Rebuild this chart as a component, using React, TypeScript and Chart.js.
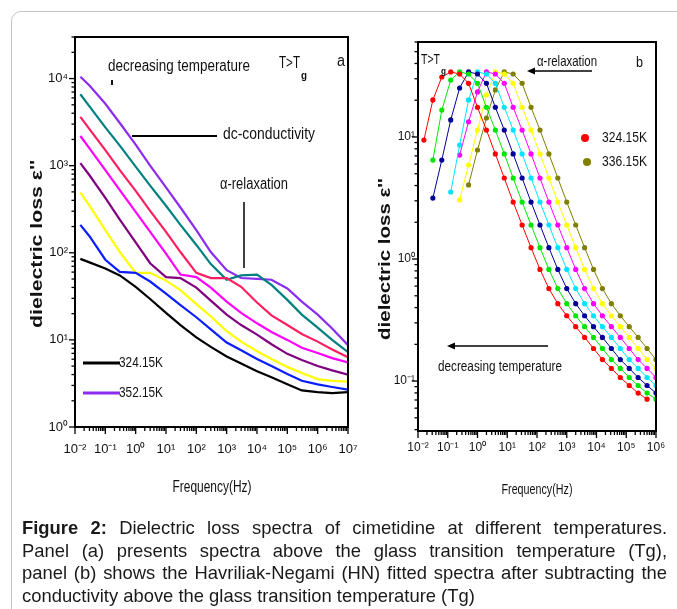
import React, { useEffect, useRef } from 'react';
import { Chart, registerables } from 'chart.js';
Chart.register(...registerables);

// ---------- Panel (a): raw dielectric loss spectra ----------
const freqA = [0.015, 0.03, 0.1, 0.3, 1, 3, 10, 30, 100, 300, 1000, 3000, 10000, 30000, 100000, 300000, 1000000, 3000000, 10000000];
const lossA_324_15K = [85.1, 77.6, 66.1, 55.0, 40.7, 29.5, 20.4, 14.8, 10.7, 8.32, 6.46, 5.37, 4.37, 3.72, 3.09, 2.63, 2.51, 2.45, 2.51];
const lossA_T2 = [209, 155, 83.2, 60.3, 58.9, 46.8, 33.9, 25.1, 18.2, 13.2, 9.33, 7.59, 6.03, 5.01, 4.07, 3.39, 3.09, 2.88, 2.69];
const lossA_T3 = [490, 347, 182, 102, 58.9, 58.9, 47.9, 37.2, 25.7, 18.6, 12.6, 9.55, 7.41, 6.03, 4.90, 4.17, 3.55, 3.39, 3.31];
const lossA_T4 = [1070, 776, 427, 240, 132, 75.9, 52.5, 51.3, 39.8, 28.2, 19.5, 14.8, 11.5, 8.91, 6.92, 5.89, 5.01, 4.47, 3.98];
const lossA_T5 = [2190, 1580, 891, 525, 295, 174, 97.7, 56.2, 52.5, 39.8, 27.5, 20.4, 15.5, 12.3, 10.0, 8.13, 7.08, 6.17, 5.50];
const lossA_T6 = [3630, 2630, 1510, 891, 513, 302, 174, 102, 58.9, 51.3, 51.3, 40.7, 26.9, 19.1, 14.8, 11.7, 9.55, 7.76, 6.31];
const lossA_T7 = [6610, 4790, 2750, 1700, 977, 589, 347, 209, 123, 74.1, 49.0, 55.0, 56.2, 42.7, 28.8, 19.5, 13.8, 10.0, 7.24];
const lossA_352_15K = [10470, 8320, 5130, 3090, 1740, 1000, 562, 331, 182, 102, 63.1, 51.3, 50.1, 49.0, 38.9, 27.5, 19.5, 13.5, 8.71];
const tickExpA_X = [-2, -1, 0, 1, 2, 3, 4, 5, 6, 7];
const tickExpA_Y = [0, 1, 2, 3, 4];

// ---------- Panel (b): HN fitted spectra ----------
const freqB = [0.0158, 0.0316, 0.0631, 0.126, 0.251, 0.501, 1, 2, 3.98, 7.94, 15.8, 31.6, 63.1, 126, 251, 501, 1000, 2000, 3980, 7940, 15800, 31600, 63100, 126000, 251000, 501000, 1000000];
const lossB_324_15K = [9.44, 20.1, 31.0, 34.1, 32.8, 27.5, 17.5, 11.4, 7.26, 4.61, 2.93, 1.90, 1.24, 0.822, 0.573, 0.431, 0.343, 0.279, 0.228, 0.185, 0.150, 0.127, 0.107, 0.092, 0.0798, 0.0711, null];
const lossB_T2 = [null, 6.47, 16.6, 29.3, 34.1, 32.8, 27.5, 17.5, 11.4, 7.26, 4.61, 2.93, 1.90, 1.24, 0.822, 0.573, 0.431, 0.343, 0.279, 0.228, 0.185, 0.150, 0.127, 0.107, 0.092, 0.0798, 0.0711];
const lossB_T3 = [null, 3.16, 6.47, 13.8, 25.2, 34.1, 32.8, 27.5, 17.5, 11.4, 7.26, 4.61, 2.93, 1.90, 1.24, 0.822, 0.573, 0.431, 0.343, 0.279, 0.228, 0.185, 0.150, 0.127, 0.107, 0.092, 0.0798];
const lossB_T4 = [null, null, null, 3.54, 8.59, 20.1, 34.1, 32.8, 27.5, 17.5, 11.4, 7.26, 4.61, 2.93, 1.90, 1.24, 0.822, 0.573, 0.431, 0.343, 0.279, 0.228, 0.185, 0.150, 0.127, 0.107, 0.092];
const lossB_T5 = [null, null, null, null, 7.11, 13.3, 23.4, 34.1, 32.8, 27.5, 17.5, 11.4, 7.26, 4.61, 2.93, 1.90, 1.24, 0.822, 0.573, 0.431, 0.343, 0.279, 0.228, 0.185, 0.150, 0.127, 0.107];
const lossB_T6 = [null, null, null, null, 3.05, 5.89, 11.4, 22.1, 34.1, 32.8, 27.5, 17.5, 11.4, 7.26, 4.61, 2.93, 1.90, 1.24, 0.822, 0.573, 0.431, 0.343, 0.279, 0.228, 0.185, 0.150, 0.127];
const lossB_336_15K = [null, null, null, null, null, 4.05, 7.82, 14.3, 24.3, 34.1, 32.8, 27.5, 17.5, 11.4, 7.26, 4.61, 2.93, 1.90, 1.24, 0.822, 0.573, 0.431, 0.343, 0.279, 0.228, 0.185, 0.150];
const tickExpB_X = [-2, -1, 0, 1, 2, 3, 4, 5, 6];
const tickExpB_Y = [-1, 0, 1];

const captionLines = [
  'Dielectric loss spectra of cimetidine at different temperatures.',
  'Panel (a) presents spectra above the glass transition temperature (Tg),',
  'panel (b) shows the Havriliak-Negami (HN) fitted spectra after subtracting the',
  'conductivity above the glass transition temperature (Tg)',
];

const FONT = '"Liberation Sans", Arial, sans-serif';
const VIOLET = '#8b2cf0';
const OLIVE = '#808000';

const SUP: Record<string, string> = { '-': '\u207B', '0': '\u2070', '1': '\u00B9', '2': '\u00B2', '3': '\u00B3', '4': '\u2074', '5': '\u2075', '6': '\u2076', '7': '\u2077', '8': '\u2078', '9': '\u2079' };

function isPow10(v: number) {
  const e = Math.log10(v);
  return Math.abs(e - Math.round(e)) < 1e-6;
}
function powLabel(v: number) {
  if (!isPow10(v)) return '';
  const r = Math.round(Math.log10(v));
  return '10' + String(r).split('').map((c) => SUP[c]).join('');
}
function buildTicks(exps: number[], min: number, max: number) {
  const out: { value: number }[] = [];
  for (let e = exps[0] - 1; e <= exps[exps.length - 1]; e++) {
    for (let m = 1; m < 10; m++) {
      const v = m * Math.pow(10, e);
      if (v >= min * 0.9999 && v <= max * 1.0001) out.push({ value: v });
    }
  }
  return out;
}

function fitText(ctx: any, text: string, x: number, y: number, w: number, font: string, align: 'left' | 'center' = 'left', rotate = false) {
  ctx.save();
  ctx.font = font;
  const m = ctx.measureText(text).width;
  ctx.translate(x, y);
  if (rotate) ctx.rotate(-Math.PI / 2);
  ctx.scale(w / m, 1);
  ctx.textAlign = 'left';
  ctx.textBaseline = 'middle';
  ctx.fillText(text, align === 'center' ? -m / 2 : 0, 0);
  ctx.restore();
}
function line(ctx: any, x1: number, y1: number, x2: number, y2: number, w: number, color = '#000') {
  ctx.save();
  ctx.strokeStyle = color;
  ctx.lineWidth = w;
  ctx.beginPath();
  ctx.moveTo(x1, y1);
  ctx.lineTo(x2, y2);
  ctx.stroke();
  ctx.restore();
}
function arrowLeft(ctx: any, x1: number, x2: number, y: number, w: number) {
  line(ctx, x1 + 4, y, x2, y, w);
  ctx.save();
  ctx.fillStyle = '#000';
  ctx.beginPath();
  ctx.moveTo(x1, y);
  ctx.lineTo(x1 + 8, y - 3.5);
  ctx.lineTo(x1 + 8, y + 3.5);
  ctx.closePath();
  ctx.fill();
  ctx.restore();
}

const framePlugin = {
  id: 'frameTicks',
  afterDraw(chart: any) {
    const { ctx, chartArea } = chart;
    const { left, right, top, bottom } = chartArea;
    const xs = chart.scales.x;
    const ys = chart.scales.y;
    ctx.save();
    ctx.strokeStyle = '#000';
    ctx.lineWidth = 1.3;
    xs.ticks.forEach((t: any) => {
      const px = xs.getPixelForValue(t.value);
      ctx.beginPath();
      ctx.moveTo(px, bottom);
      ctx.lineTo(px, bottom + (isPow10(t.value) ? 7 : 4));
      ctx.stroke();
    });
    ys.ticks.forEach((t: any) => {
      const py = ys.getPixelForValue(t.value);
      ctx.beginPath();
      ctx.moveTo(left, py);
      ctx.lineTo(left - (isPow10(t.value) ? 6 : 3.5), py);
      ctx.stroke();
    });
    ctx.lineWidth = 2;
    ctx.strokeRect(left, top, right - left, bottom - top);
    ctx.restore();
  },
};

const annotA = {
  id: 'annotA',
  afterDraw(chart: any) {
    const ctx = chart.ctx;
    ctx.save();
    ctx.fillStyle = '#111';
    fitText(ctx, 'decreasing temperature', 108, 67, 142, `16px ${FONT}`);
    ctx.fillRect(111, 80, 2, 5);
    fitText(ctx, 'T>T', 279, 64, 21, `16px ${FONT}`);
    fitText(ctx, 'g', 301, 76, 6, `bold 10px ${FONT}`);
    fitText(ctx, 'a', 337, 62, 8, `16px ${FONT}`);
    line(ctx, 132, 136, 217, 136, 2);
    fitText(ctx, 'dc-conductivity', 223, 135, 92, `16px ${FONT}`);
    fitText(ctx, '\u03B1-relaxation', 220, 185, 68, `16px ${FONT}`);
    line(ctx, 244, 202, 244, 268, 1.5);
    line(ctx, 83, 363, 120, 363, 3, '#000');
    fitText(ctx, '324.15K', 119, 363, 44, `15px ${FONT}`);
    line(ctx, 83, 393, 120, 393, 3, VIOLET);
    fitText(ctx, '352.15K', 119, 393, 44, `15px ${FONT}`);
    fitText(ctx, "dielectric loss \u03B5''", 37, 244, 168, `bold 17px ${FONT}`, 'center', true);
    fitText(ctx, 'Frequency(Hz)', 212, 488, 79, `16px ${FONT}`, 'center');
    ctx.restore();
  },
};

const annotB = {
  id: 'annotB',
  afterDraw(chart: any) {
    const ctx = chart.ctx;
    ctx.save();
    ctx.fillStyle = '#111';
    fitText(ctx, 'T>T', 421, 60, 19, `15px ${FONT}`);
    fitText(ctx, 'g', 441, 72, 5, `bold 9px ${FONT}`);
    fitText(ctx, '\u03B1-relaxation', 537, 62, 60, `15px ${FONT}`);
    arrowLeft(ctx, 527, 592, 71, 1.5);
    fitText(ctx, 'b', 636, 63, 7, `15px ${FONT}`);
    ctx.fillStyle = '#ff0000';
    ctx.beginPath();
    ctx.arc(585, 138, 4, 0, Math.PI * 2);
    ctx.fill();
    ctx.fillStyle = OLIVE;
    ctx.beginPath();
    ctx.arc(587, 162, 4, 0, Math.PI * 2);
    ctx.fill();
    ctx.fillStyle = '#111';
    fitText(ctx, '324.15K', 602, 138, 45, `15px ${FONT}`);
    fitText(ctx, '336.15K', 602, 162, 45, `15px ${FONT}`);
    arrowLeft(ctx, 447, 548, 346, 1.5);
    fitText(ctx, 'decreasing temperature', 438, 367, 124, `15px ${FONT}`);
    fitText(ctx, "dielectric loss \u03B5''", 386, 259, 162, `bold 16px ${FONT}`, 'center', true);
    fitText(ctx, 'Frequency(Hz)', 537, 490, 71, `14px ${FONT}`, 'center');
    ctx.restore();
  },
};

function pts(freq: number[], vals: (number | null)[]) {
  const out: { x: number; y: number }[] = [];
  vals.forEach((v, i) => {
    if (v !== null) out.push({ x: freq[i], y: v });
  });
  return out;
}

function makeConfig(spec: any): any {
  return {
    type: 'line',
    data: { datasets: spec.datasets },
    options: {
      animation: false,
      responsive: false,
      maintainAspectRatio: false,
      events: [],
      layout: { padding: spec.padding },
      plugins: { legend: { display: false }, tooltip: { enabled: false }, title: { display: false } },
      elements: { line: { tension: 0 } },
      scales: {
        x: {
          type: 'logarithmic',
          min: spec.xmin,
          max: spec.xmax,
          afterBuildTicks: (s: any) => { s.ticks = buildTicks(spec.xExps, spec.xmin, spec.xmax); },
          afterFit: (s: any) => { s.height = spec.xh; },
          grid: { display: false, drawTicks: false },
          border: { display: false },
          ticks: { callback: (v: number) => powLabel(v), autoSkip: false, maxRotation: 0, minRotation: 0, padding: spec.xpad, color: '#111', font: { family: FONT, size: spec.tickSize } },
        },
        y: {
          type: 'logarithmic',
          min: spec.ymin,
          max: spec.ymax,
          afterBuildTicks: (s: any) => { s.ticks = buildTicks(spec.yExps, spec.ymin, spec.ymax); },
          afterFit: (s: any) => { s.width = spec.yw; },
          grid: { display: false, drawTicks: false },
          border: { display: false },
          ticks: { callback: (v: number) => powLabel(v), autoSkip: false, padding: spec.ypad, color: '#111', font: { family: FONT, size: spec.tickSize } },
        },
      },
    },
    plugins: [framePlugin, spec.annot],
  };
}

function lineDs(label: string, data: any, color: string) {
  return { label, data, borderColor: color, backgroundColor: color, borderWidth: 2.2, pointRadius: 0 };
}
function dotDs(label: string, data: any, color: string) {
  return { label, data, borderColor: color, backgroundColor: color, borderWidth: 1, pointRadius: 2.6, pointBorderWidth: 0, pointBackgroundColor: color };
}

export default function App() {
  const refA = useRef<HTMLCanvasElement>(null);
  const refB = useRef<HTMLCanvasElement>(null);
  useEffect(() => {
    const a = new Chart(refA.current as HTMLCanvasElement, makeConfig({
      datasets: [
        lineDs('324.15K', pts(freqA, lossA_324_15K), '#000000'),
        lineDs('T2', pts(freqA, lossA_T2), '#0a1eff'),
        lineDs('T3', pts(freqA, lossA_T3), '#ffff00'),
        lineDs('T4', pts(freqA, lossA_T4), '#800080'),
        lineDs('T5', pts(freqA, lossA_T5), '#ff00ff'),
        lineDs('T6', pts(freqA, lossA_T6), '#ff1f60'),
        lineDs('T7', pts(freqA, lossA_T7), '#008080'),
        lineDs('352.15K', pts(freqA, lossA_352_15K), VIOLET),
      ],
      padding: { left: 0, top: 37, right: 329, bottom: 0 },
      xmin: 0.01, xmax: 1e7, ymin: 1, ymax: 30000,
      xExps: tickExpA_X, yExps: tickExpA_Y,
      xh: 93, yw: 75, xpad: 15, ypad: 7, tickSize: 13,
      annot: annotA,
    }));
    const b = new Chart(refB.current as HTMLCanvasElement, makeConfig({
      datasets: [
        dotDs('324.15K', pts(freqB, lossB_324_15K), '#ff0000'),
        dotDs('T2', pts(freqB, lossB_T2), '#00e600'),
        dotDs('T3', pts(freqB, lossB_T3), '#000099'),
        dotDs('T4', pts(freqB, lossB_T4), '#00e5ff'),
        dotDs('T5', pts(freqB, lossB_T5), '#ff00ff'),
        dotDs('T6', pts(freqB, lossB_T6), '#ffff00'),
        dotDs('336.15K', pts(freqB, lossB_336_15K), OLIVE),
      ],
      padding: { left: 360, top: 42, right: 21, bottom: 0 },
      xmin: 0.01, xmax: 1e6, ymin: 0.039, ymax: 60,
      xExps: tickExpB_X, yExps: tickExpB_Y,
      xh: 89, yw: 58, xpad: 9, ypad: 3, tickSize: 12,
      annot: annotB,
    }));
    return () => { a.destroy(); b.destroy(); };
  }, []);

  const lineStyle = (last: boolean): React.CSSProperties => ({
    height: 22.5,
    textAlign: last ? 'left' : 'justify',
    textAlignLast: last ? 'left' : 'justify',
    whiteSpace: 'normal',
  });

  return (
    <div style={{ position: 'absolute', left: 0, top: 0, width: 677, height: 609, overflow: 'hidden', background: '#fff' }}>
      <div style={{ position: 'absolute', left: 11, top: 11, width: 720, height: 720, border: '1px solid #c4c4c4', borderRadius: 10 }} />
      <canvas ref={refA} width={677} height={520} style={{ position: 'absolute', left: 0, top: 0 }} />
      <canvas ref={refB} width={677} height={520} style={{ position: 'absolute', left: 0, top: 0 }} />
      <div style={{ position: 'absolute', left: 22, top: 517, width: 645, fontFamily: FONT, fontSize: 18.4, lineHeight: '22.5px', color: '#1a1a1a' }}>
        {captionLines.map((t, i) => (
          <div key={i} style={lineStyle(i === captionLines.length - 1)}>
            {i === 0 ? <b>Figure 2: </b> : null}
            {t}
          </div>
        ))}
      </div>
    </div>
  );
}
